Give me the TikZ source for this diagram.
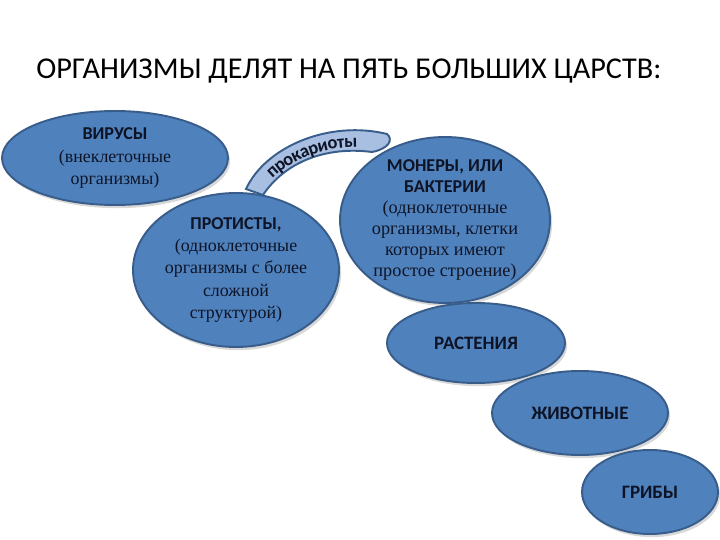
\documentclass[tikz,border=0pt]{standalone}
\usepackage{fontspec}
\setmainfont{Liberation Serif}
\setsansfont{Carlito}
\usetikzlibrary{shapes.geometric,shadows,decorations.text}
\definecolor{kingdomblue}{RGB}{79,129,189}
\definecolor{kingdomline}{RGB}{56,93,138}
\definecolor{arcblue}{RGB}{168,191,226}
\definecolor{inkdark}{RGB}{14,20,38}
\tikzset{
  kingdom/.style={ellipse,draw=kingdomline,line width=1.1pt,fill=kingdomblue,inner sep=0pt,
    drop shadow={opacity=0.3,shadow xshift=1.2pt,shadow yshift=-1.8pt}},
  caption/.style={align=center,text=inkdark,inner sep=0pt,font=\fontsize{10.2}{12.6}\selectfont},
  bold/.style={text=inkdark,inner sep=0pt,font=\sffamily\bfseries\fontsize{10.8}{12}\selectfont}
}
\newcommand{\hd}[1]{{\sffamily\bfseries\fontsize{10.3}{12.6}\selectfont #1}}

\begin{document}
\begin{tikzpicture}[x=0.02cm,y=-0.02cm]
\useasboundingbox[fill=white] (0,0) rectangle (720,540);
\node[anchor=west,inner sep=0pt,font=\sffamily\fontsize{17.2}{19}\selectfont] (title) at (36,71) {ОРГАНИЗМЫ ДЕЛЯТ НА ПЯТЬ БОЛЬШИХ ЦАРСТВ:};
\node[kingdom,minimum width=4.52cm,minimum height=1.88cm] (viruses) at (115,158) {};
\node[caption] (virusestext) at (viruses.center) {\hd{ВИРУСЫ}\\(внеклеточные\\организмы)};
\draw[kingdomline,line width=1.1pt,fill=arcblue] (246,189) .. controls (266,146) and (330,120) .. (387,134) .. controls (394,140) and (388,149) .. (372,152) .. controls (326,146) and (285,162) .. (263,195) -- cycle;
\path[decorate,decoration={text along path,raise=-4pt,text align=center,
  text={|\sffamily\bfseries\fontsize{10.5}{12}\selectfont\color{inkdark}|прокариоты}}]
  (254,192) .. controls (275,154) and (328,133) .. (380,143);
\node[kingdom,minimum width=4.12cm,minimum height=3.08cm] (protists) at (236,270) {};
\node[caption] (proteststext) at (protists.center) {\hd{ПРОТИСТЫ,}\\(одноклеточные\\организмы с более\\сложной\\структурой)};
\node[kingdom,minimum width=4.2cm,minimum height=3.32cm] (monera) at (445,220) {};
\node[caption,font=\fontsize{10.4}{12}\selectfont] (moneratext) at (monera.center) {\hd{МОНЕРЫ, ИЛИ}\\\hd{БАКТЕРИИ}\\(одноклеточные\\организмы, клетки\\которых имеют\\простое строение)};
\node[kingdom,minimum width=3.56cm,minimum height=1.6cm] (plants) at (476,343) {};
\node[bold] (plantstext) at (plants.center) {РАСТЕНИЯ};
\node[kingdom,minimum width=3.52cm,minimum height=1.68cm] (animals) at (580,413) {};
\node[bold] (animalstext) at (animals.center) {ЖИВОТНЫЕ};
\node[kingdom,minimum width=2.72cm,minimum height=1.68cm] (fungi) at (650,492) {};
\node[bold] (fungitext) at (fungi.center) {ГРИБЫ};
\end{tikzpicture}
\end{document}
